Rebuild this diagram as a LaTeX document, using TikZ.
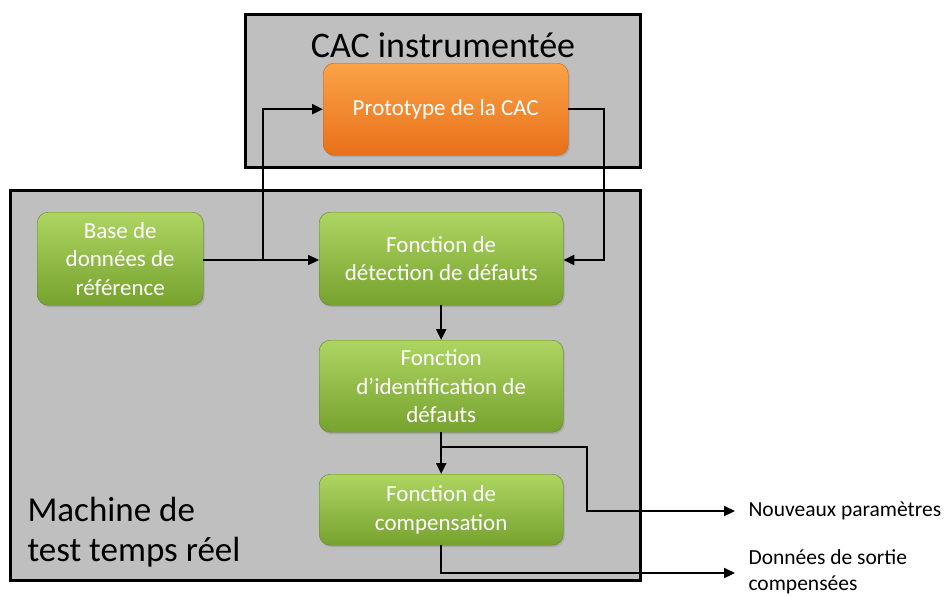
\documentclass[tikz,border=0pt]{standalone}
\usepackage{fontspec}
\setmainfont{Carlito}
\usetikzlibrary{arrows.meta,shadows}
\definecolor{panel}{HTML}{BFBFBF}
\definecolor{gtop}{HTML}{AED562}
\definecolor{gbot}{HTML}{76A22E}
\definecolor{otop}{HTML}{FBA347}
\definecolor{obot}{HTML}{E9701A}
\tikzset{
  panelbox/.style={draw=black,line width=3pt,fill=panel},
  greenbox/.style={rounded corners=11pt,top color=gtop,bottom color=gbot,draw=gbot!80!black,line width=0.4pt,
    text=white,align=center,font=\fontsize{23}{28.5}\selectfont,inner sep=0pt,anchor=north west,
    drop shadow={shadow xshift=1.5pt,shadow yshift=-2pt,opacity=0.35}},
  orangebox/.style={greenbox,top color=otop,bottom color=obot,draw=obot!85!black},
  conn/.style={line width=2.2pt,-{Triangle[length=11pt,width=10pt]}},
  lab/.style={font=\fontsize{21.5}{26}\selectfont,align=left,anchor=west},
}
\begin{document}
\begin{tikzpicture}[x=1pt,y=-1pt]
\useasboundingbox (0,0) rectangle (945,595);
% panels
\draw[panelbox] (245,14) rectangle (640,167);
\draw[panelbox] (10,190) rectangle (640,580);
\node[font=\fontsize{36}{40}\selectfont] (t1) at (443,45) {CAC instrumentée};
\node[font=\fontsize{35}{40}\selectfont,align=left,anchor=west] (t2) at (24,532) {Machine de\\test temps réel};
% boxes
\node[orangebox,minimum width=245pt,minimum height=92pt] (proto) at (323,63) {Prototype de la CAC};
\node[greenbox,minimum width=166pt,minimum height=93pt] (base) at (37,212) {Base de\\données de\\référence};
\node[greenbox,minimum width=244pt,minimum height=93pt] (detect) at (319,212) {Fonction de\\détection de défauts};
\node[greenbox,minimum width=244pt,minimum height=92pt] (ident) at (319,340) {Fonction\\d’identification de\\défauts};
\node[greenbox,minimum width=244pt,minimum height=71pt] (comp) at (319,474) {Fonction de\\compensation};
% connectors
\coordinate (j1) at (263,260);
\coordinate (j2) at (441,447);
\draw[conn] (base.east|-j1) -- (detect.west|-j1);
\draw[conn] (j1) |- (proto.west);
\draw[conn] (proto.east) -| (604,260) -- (detect.east|-j1);
\draw[conn] (detect.south) -- (ident.north);
\draw[conn] (ident.south) -- (comp.north);
\coordinate (np) at (735,511);
\coordinate (ds) at (735,573);
\draw[conn] (j2) -| (587,511) -- (np);
\draw[conn] (comp.south) |- (ds);
\node[lab] (l1) at (745,511) {Nouveaux paramètres};
\node[lab] (l2) at (745,572) {Données de sortie\\compensées};
\end{tikzpicture}
\end{document}
